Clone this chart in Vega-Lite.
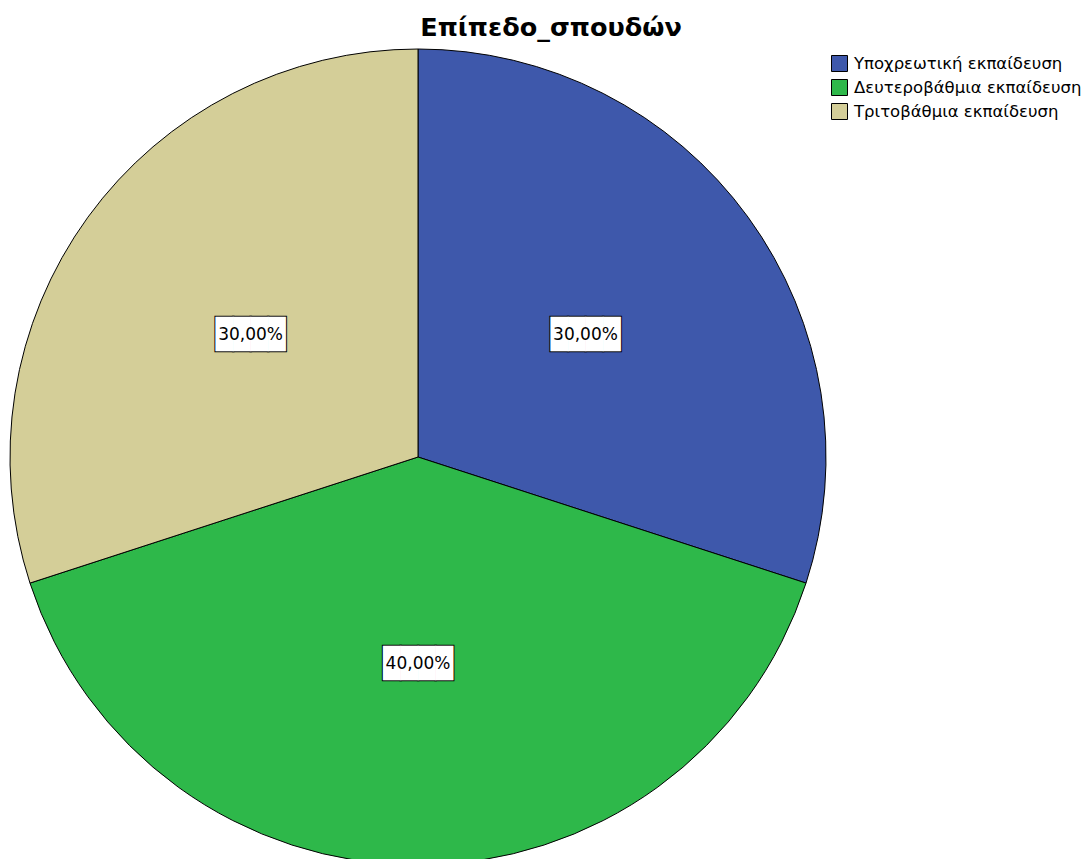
{
  "$schema": "https://vega.github.io/schema/vega-lite/v6.json",
  "width": 836,
  "height": 814,
  "autosize": {"type": "none"},
  "padding": {"left": 0, "top": 50, "right": 256, "bottom": 0},
  "background": "white",
  "title": {
    "text": "Επίπεδο_σπουδών",
    "font": "DejaVu Sans",
    "fontSize": 25.5,
    "fontWeight": "bold",
    "color": "#000000",
    "anchor": "middle",
    "frame": "group",
    "dx": 133,
    "offset": 6
  },
  "config": {"view": {"stroke": null}},
  "data": {
    "values": [
      {"level": "Υποχρεωτική εκπαίδευση", "order": 1, "pct": 30, "label": "30,00%"},
      {"level": "Δευτεροβάθμια εκπαίδευση", "order": 2, "pct": 40, "label": "40,00%"},
      {"level": "Τριτοβάθμια εκπαίδευση", "order": 3, "pct": 30, "label": "30,00%"}
    ]
  },
  "encoding": {
    "theta": {"field": "pct", "type": "quantitative", "stack": true},
    "order": {"field": "order", "type": "ordinal"}
  },
  "layer": [
    {
      "mark": {"type": "arc", "outerRadius": 408, "stroke": "#000000", "strokeWidth": 1},
      "encoding": {
        "color": {
          "field": "level",
          "type": "nominal",
          "sort": ["Υποχρεωτική εκπαίδευση", "Δευτεροβάθμια εκπαίδευση", "Τριτοβάθμια εκπαίδευση"],
          "scale": {
            "domain": ["Υποχρεωτική εκπαίδευση", "Δευτεροβάθμια εκπαίδευση", "Τριτοβάθμια εκπαίδευση"],
            "range": ["#3e58ab", "#2eb84a", "#d4ce98"]
          },
          "legend": {
            "title": null,
            "orient": "none",
            "legendX": 831,
            "legendY": 5,
            "symbolType": "square",
            "symbolSize": 256,
            "symbolStrokeColor": "#000000",
            "symbolStrokeWidth": 1,
            "symbolOpacity": 1,
            "labelFont": "DejaVu Sans",
            "labelFontSize": 16.5,
            "labelColor": "#000000",
            "labelLimit": 400,
            "rowPadding": 3,
            "labelOffset": 6
          }
        }
      }
    },
    {
      "mark": {
        "type": "text",
        "radius": 207,
        "font": "DejaVu Sans Mono",
        "fontSize": 29,
        "fill": "#000000",
        "stroke": "#000000",
        "strokeWidth": 2
      },
      "encoding": {"text": {"value": "████"}}
    },
    {
      "mark": {
        "type": "text",
        "radius": 207,
        "font": "DejaVu Sans Mono",
        "fontSize": 29,
        "fill": "#ffffff"
      },
      "encoding": {"text": {"value": "████"}}
    },
    {
      "mark": {
        "type": "text",
        "radius": 207,
        "font": "DejaVu Sans",
        "fontSize": 17,
        "color": "#000000"
      },
      "encoding": {"text": {"field": "label"}}
    }
  ]
}
